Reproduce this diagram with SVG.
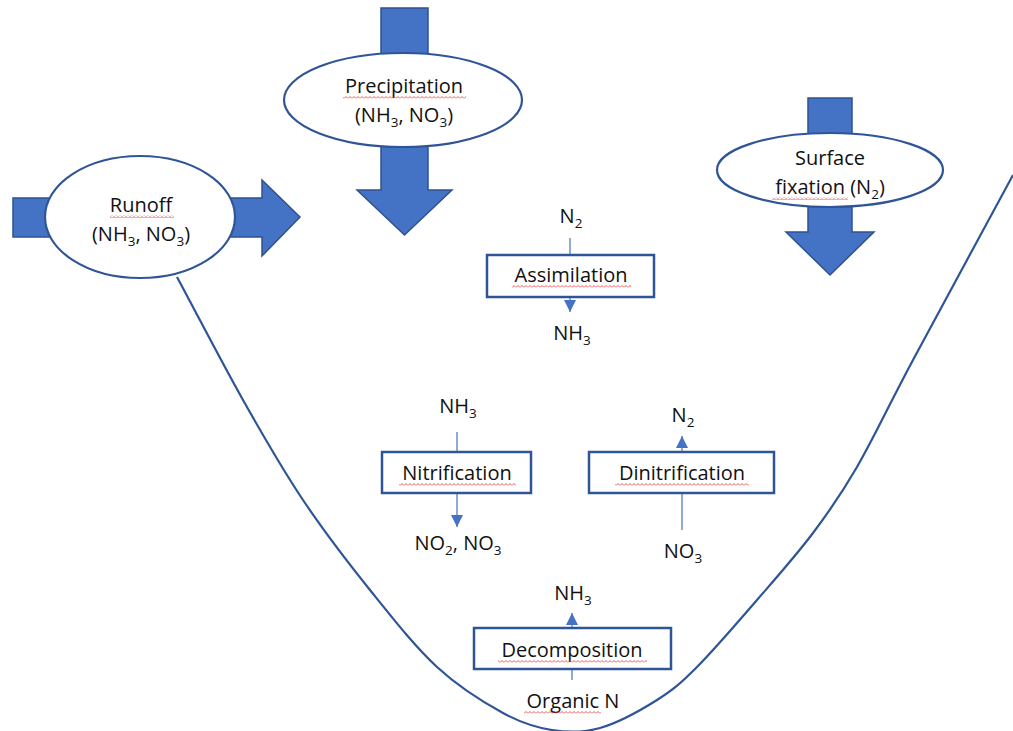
<svg xmlns="http://www.w3.org/2000/svg" width="1013" height="731" viewBox="0 0 1013 731">
<style>
.blk{fill:#4472C4;stroke:#2F528F;stroke-width:1.5}
.ell{fill:#fff;stroke:#2F5597;stroke-width:2.2}
.box{fill:#fff;stroke:#2F5597;stroke-width:2.5}
.con{fill:none;stroke:#4472C4;stroke-width:1.2}
.crv{fill:none;stroke:#2F5597;stroke-width:2.2}
text{font-family:"Open Sans","Liberation Sans",sans-serif;font-size:20px;fill:#111;text-anchor:middle}
.sp{fill:url(#wave)}
</style>
<defs>
<marker id="ah" markerUnits="userSpaceOnUse" markerWidth="12" markerHeight="13" refX="12" refY="6" orient="auto">
<path d="M0,0 L12,6 L0,12 Z" fill="#4472C4"/>
</marker>
<pattern id="wave" patternUnits="userSpaceOnUse" width="4" height="3">
<path d="M0,2.5 L2,0.5 L4,2.5" fill="none" stroke="#E03030" stroke-width="0.8"/>
</pattern>
</defs>
<g id="curve">
<path class="crv" d="M177,277 C199,318 222,362.8 243,400 C264,437.2 281.8,468.3 303,500 C324.2,531.7 347.7,562.2 370,590 C392.3,617.8 414.8,646.5 437,667 C459.2,687.5 483.8,702.5 503,713 C522.2,723.5 535.8,727.5 552,730 C568.2,732.5 582.5,733 600,728 C617.5,723 640.8,710.2 657,700 C673.2,689.8 680.3,683.7 697,667 C713.7,650.3 737.7,622.3 757,600 C776.3,577.7 796.3,555.2 813,533 C829.7,510.8 840.3,495.8 857,467 C873.7,438.2 887,408.7 913,360 C939,311.3 979.7,236.7 1013,175"/>
</g>
<g id="precipitation">
<polygon class="blk" points="381,8 428,8 428,190 452,190 404.5,235 357,190 381,190"/>
<ellipse class="ell" cx="403" cy="100" rx="119" ry="47"/>
<text x="404" y="93">Precipitation</text>
<rect class="sp" x="343" y="96" width="123" height="3"/>
<text x="404" y="122">(NH<tspan font-size="13.5" dy="5">3</tspan><tspan dy="-5">, NO</tspan><tspan font-size="13.5" dy="5">3</tspan><tspan dy="-5">)</tspan></text>
</g>
<g id="runoff">
<polygon class="blk" points="13,198 262,198 262,180 300,217 262,256 262,237 13,237"/>
<ellipse class="ell" cx="140" cy="217" rx="95" ry="61"/>
<text x="141" y="212">Runoff</text>
<rect class="sp" x="110" y="215" width="64" height="3"/>
<text x="141" y="241">(NH<tspan font-size="13.5" dy="5">3</tspan><tspan dy="-5">, NO</tspan><tspan font-size="13.5" dy="5">3</tspan><tspan dy="-5">)</tspan></text>
</g>
<g id="surface-fixation">
<polygon class="blk" points="808,98 852,98 852,232 874,232 830,275 786,232 808,232"/>
<ellipse class="ell" cx="830" cy="170" rx="113" ry="37"/>
<text x="830" y="165">Surface</text>
<text x="830" y="194">fixation (N<tspan font-size="13.5" dy="5">2</tspan><tspan dy="-5">)</tspan></text>
<rect class="sp" x="772" y="197" width="76" height="3"/>
</g>
<g id="connectors">
<line class="con" x1="570" y1="238" x2="570" y2="312" marker-end="url(#ah)"/>
<line class="con" x1="457" y1="432" x2="457" y2="527" marker-end="url(#ah)"/>
<line class="con" x1="682" y1="530" x2="682" y2="436" marker-end="url(#ah)"/>
<line class="con" x1="572" y1="680" x2="572" y2="613" marker-end="url(#ah)"/>
</g>
<g id="assimilation">
<rect class="box" x="487" y="255" width="167" height="42"/>
<text x="571" y="282">Assimilation</text>
<rect class="sp" x="512" y="285" width="119" height="3"/>
<text x="571" y="223">N<tspan font-size="13.5" dy="5">2</tspan></text>
<text x="572" y="340">NH<tspan font-size="13.5" dy="5">3</tspan></text>
</g>
<g id="nitrification">
<rect class="box" x="382" y="452" width="149" height="41"/>
<text x="457" y="480">Nitrification</text>
<rect class="sp" x="399" y="483" width="117" height="3"/>
<text x="458" y="413">NH<tspan font-size="13.5" dy="5">3</tspan></text>
<text x="458" y="550">NO<tspan font-size="13.5" dy="5">2</tspan><tspan dy="-5">, NO</tspan><tspan font-size="13.5" dy="5">3</tspan></text>
</g>
<g id="dinitrification">
<rect class="box" x="589" y="452" width="185" height="41"/>
<text x="682" y="480">Dinitrification</text>
<rect class="sp" x="615" y="483" width="134" height="3"/>
<text x="683" y="422">N<tspan font-size="13.5" dy="5">2</tspan></text>
<text x="683" y="558">NO<tspan font-size="13.5" dy="5">3</tspan></text>
</g>
<g id="decomposition">
<rect class="box" x="474" y="628" width="197" height="41"/>
<text x="572" y="657">Decomposition</text>
<rect class="sp" x="498" y="660" width="149" height="3"/>
<text x="573" y="600">NH<tspan font-size="13.5" dy="5">3</tspan></text>
<text x="573" y="708">Organic N</text>
<rect class="sp" x="524" y="711" width="77" height="3"/>
</g>
</svg>
